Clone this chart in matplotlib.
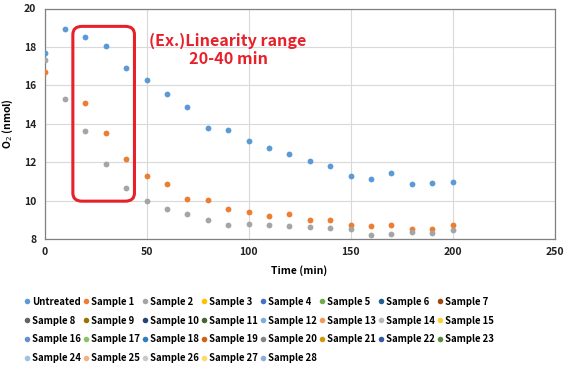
import numpy as np
import matplotlib
matplotlib.use("Agg")
import matplotlib.pyplot as plt
from matplotlib.patches import FancyBboxPatch
from matplotlib.lines import Line2D

plt.rcParams["font.family"] = ["Noto Sans CJK JP", "DejaVu Sans"]

time = [0, 10, 20, 30, 40, 50, 60, 70, 80, 90, 100, 110, 120, 130, 140, 150, 160, 170, 180, 190, 200]
untreated = [17.66, 18.93, 18.53, 18.06, 16.88, 16.28, 15.55, 14.87, 13.80, 13.68, 13.11,
             12.76, 12.45, 12.05, 11.79, 11.26, 11.12, 11.46, 10.86, 10.89, 10.98]
sample1 = [16.71, np.nan, 15.06, 13.51, 12.17, 11.26, 10.84, 10.06, 10.03, 9.56, 9.40,
           9.21, 9.30, 9.00, 8.97, 8.74, 8.68, 8.74, 8.54, 8.50, 8.74]
sample2 = [17.32, 15.27, 13.61, 11.93, 10.63, 9.99, 9.54, 9.32, 9.00, 8.73, 8.78,
           8.73, 8.68, 8.61, 8.55, 8.50, 8.19, 8.26, 8.36, 8.33, 8.47]

labels = ["Untreated"] + ["Sample %d" % i for i in range(1, 29)]
colors = ["#5B9BD5", "#ED7D31", "#A5A5A5", "#FFC000", "#4472C4", "#70AD47", "#255E91", "#9E480E",
          "#636363", "#997300", "#264478", "#43682B", "#7CAFDD", "#F1975A", "#B7B7B7", "#FFCD33",
          "#698ED0", "#8CC168", "#327DC2", "#D26012", "#848484", "#CC9A00", "#335AA1", "#5A8A39",
          "#9DC3E6", "#F4B183", "#C9C9C9", "#FFD966", "#8FAADC"]
series = {"Untreated": untreated, "Sample 1": sample1, "Sample 2": sample2}

fig = plt.figure(figsize=(5.71, 3.71), dpi=100)
ax = fig.add_axes([44.5 / 571, 1 - 239 / 371, 510 / 571, 230.5 / 371])

handles = []
for lab, col in zip(labels, colors):
    if lab in series:
        ax.plot(time, series[lab], "o", color=col, markersize=4.2, markeredgewidth=0, zorder=3)
    handles.append(Line2D([], [], marker="o", linestyle="", color=col,
                          markersize=4.0, markeredgewidth=0, label=lab))

ax.set_xlim(0, 250)
ax.set_ylim(8, 20)
ax.set_xticks(range(0, 251, 50))
ax.set_yticks(range(8, 21, 2))
ax.grid(True, color="#D9D9D9", linewidth=0.8)
ax.set_axisbelow(True)
ax.tick_params(length=0, labelsize=7.5, pad=6, colors="#222222")
for t in ax.get_xticklabels() + ax.get_yticklabels():
    t.set_fontweight("bold")
for s in ax.spines.values():
    s.set_color("#808080")
    s.set_linewidth(0.9)

ax.set_xlabel("Time (min)", fontsize=7.5, fontweight="bold", labelpad=6)
ax.set_ylabel("O$_2$ (nmol)", fontsize=7.5, fontweight="bold", labelpad=6)

box = FancyBboxPatch((13.9, 9.97), 30.2, 9.1,
                     boxstyle="round,pad=0,rounding_size=4.5", mutation_aspect=0.094,
                     facecolor="none", edgecolor="#E8202A", linewidth=2.2, zorder=4)
ax.add_patch(box)
ax.text(90, 17.84, "(Ex.)Linearity range\n20-40 min", color="#E8202A", fontsize=11.6,
        fontweight="bold", ha="center", va="center", linespacing=1.1, zorder=5)

# matplotlib fills legend column by column; reorder so it reads row by row
ncol = 8
order = []
for j in range(ncol):
    order += list(range(j, len(handles), ncol))
fig.legend([handles[i] for i in order], [labels[i] for i in order],
           ncol=ncol, loc="upper left", bbox_to_anchor=(20 / 571, 1 - 292 / 371),
           frameon=False, handlelength=0.5, handletextpad=0.3,
           columnspacing=0.24, labelspacing=0.92, borderpad=0,
           prop={"weight": "bold", "size": 6.9})

fig.savefig("out.png", dpi=100)
